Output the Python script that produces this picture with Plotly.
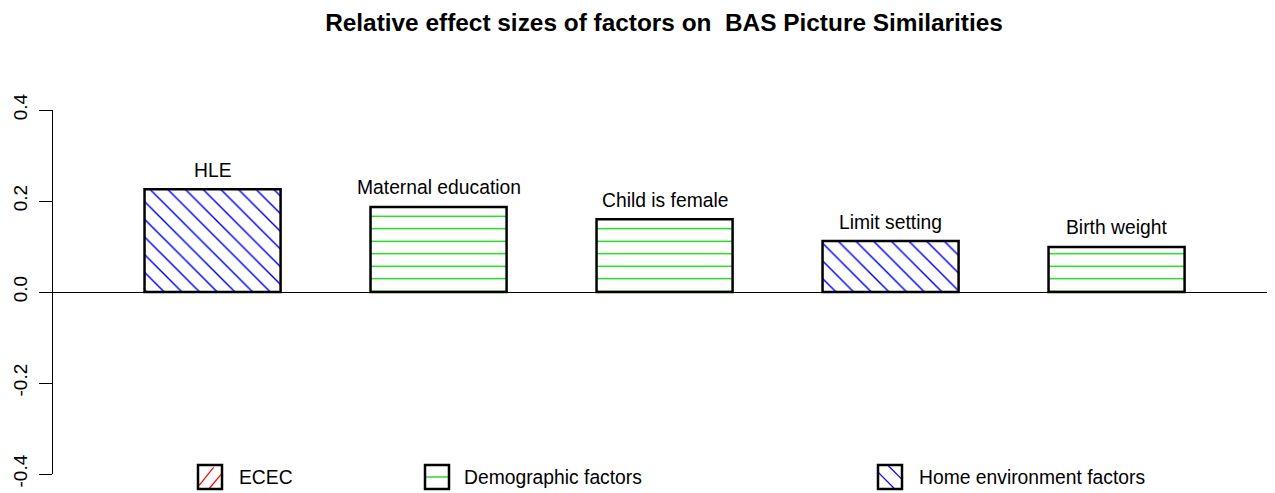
import plotly.graph_objects as go

# ---- data ----
factors = ["HLE", "Maternal education", "Child is female", "Limit setting", "Birth weight"]
effect_sizes = [0.226, 0.187, 0.160, 0.112, 0.099]
groups = ["Home environment factors", "Demographic factors", "Demographic factors",
          "Home environment factors", "Demographic factors"]
legend_labels = ["ECEC", "Demographic factors", "Home environment factors"]
y_ticks = [-0.4, -0.2, 0.0, 0.2, 0.4]
y_ticktext = ["-0.4", "-0.2", "0.0", "0.2", "0.4"]

# ---- styles / layout (page body has an 8px margin) ----
OFF = 8
W, H = 1275 - OFF, 493 - OFF
ML, MR, MT, MB = 53 - OFF, 0, 110 - OFF, 19
group_style = {
    "ECEC": ("/", "#ff0000"),
    "Demographic factors": ("-", "#00cc00"),
    "Home environment factors": ("\\", "#0000ff"),
}
FONT = "Liberation Sans, Arial, Helvetica, sans-serif"

shapes_ = [group_style[g][0] for g in groups]
colors_ = [group_style[g][1] for g in groups]
sizes_ = [12.5 if s == "-" else 12.5 for s in shapes_]
solid_ = [0.1 if s == "-" else 0.115 for s in shapes_]

fig = go.Figure()
fig.add_trace(go.Bar(
    x=factors, y=effect_sizes, width=0.602,
    marker=dict(
        color="white",
        line=dict(color="black", width=2.5),
        pattern=dict(shape=shapes_, fgcolor=colors_, bgcolor="white", fgopacity=1,
                     size=sizes_, solidity=solid_, fillmode="overlay"),
    ),
    showlegend=False, hoverinfo="x+y",
))

# labels above bars
for f, v in zip(factors, effect_sizes):
    fig.add_annotation(x=f, y=v, text=f, showarrow=False, yshift=19,
                       yanchor="middle", font=dict(size=19.3, color="black", family=FONT))

# ---- manual legend (R-style) ----
pw = W - ML - MR
ph = H - MT - MB
def px(x):  # image pixel -> paper
    return (x - OFF - ML) / pw
def py(y):
    return (H - MB - (y - OFF)) / ph

legend_boxes = [(198, 237), (425, 462), (878, 917)]
box_top, box_size = 465, 24
shp = []
for lab, (bx, tx) in zip(legend_labels, legend_boxes):
    pat, col = group_style[lab]
    x0, x1 = bx, bx + box_size
    y0, y1 = box_top, box_top + box_size
    def seg(a, b, c, d):
        return dict(type="line", xref="paper", yref="paper",
                    x0=px(x0 + a * box_size), y0=py(y0 + b * box_size),
                    x1=px(x0 + c * box_size), y1=py(y0 + d * box_size),
                    line=dict(color=col, width=1.2))
    if pat == "/":
        shp.append(seg(0.05, 0.85, 0.65, 0.1))
        shp.append(seg(0.45, 1.0, 1.0, 0.35))
    elif pat == "-":
        shp.append(seg(0.0, 0.5, 1.0, 0.5))
    else:
        shp.append(seg(0.0, 0.3, 0.7, 1.0))
        shp.append(seg(0.4, 0.0, 1.0, 0.6))
    shp.append(dict(type="rect", xref="paper", yref="paper",
                    x0=px(x0), x1=px(x1), y0=py(y0), y1=py(y1),
                    line=dict(color="black", width=2.5)))
    fig.add_annotation(xref="paper", yref="paper", x=px(tx), y=py(box_top + box_size / 2),
                       text=lab, showarrow=False, xanchor="left", yanchor="middle",
                       font=dict(size=19.3, color="black", family=FONT))

fig.update_layout(
    width=W, height=H, autosize=False,
    margin=dict(l=ML, r=MR, t=MT, b=MB, pad=0),
    plot_bgcolor="white", paper_bgcolor="white",
    title=dict(text="<b>Relative effect sizes of factors on  BAS Picture Similarities</b>",
               x=0.5, xref="paper", y=1 - (22 - OFF) / H, yref="container",
               xanchor="center", yanchor="middle",
               font=dict(size=24.4, color="black", family=FONT)),
    xaxis=dict(type="category", range=[-0.706, 4.701], visible=False, fixedrange=True),
    yaxis=dict(range=[-0.4, 0.4], tickvals=y_ticks, ticktext=y_ticktext,
               tickangle=-90, ticks="outside", ticklen=13, tickwidth=1, tickcolor="black",
               showline=True, linecolor="black", linewidth=1, showgrid=False,
               zeroline=True, zerolinecolor="black", zerolinewidth=1,
               tickfont=dict(size=19, color="black", family=FONT), ticklabelstandoff=4),
    shapes=shp,
    font=dict(family=FONT),
)

fig.write_html("out.html")
